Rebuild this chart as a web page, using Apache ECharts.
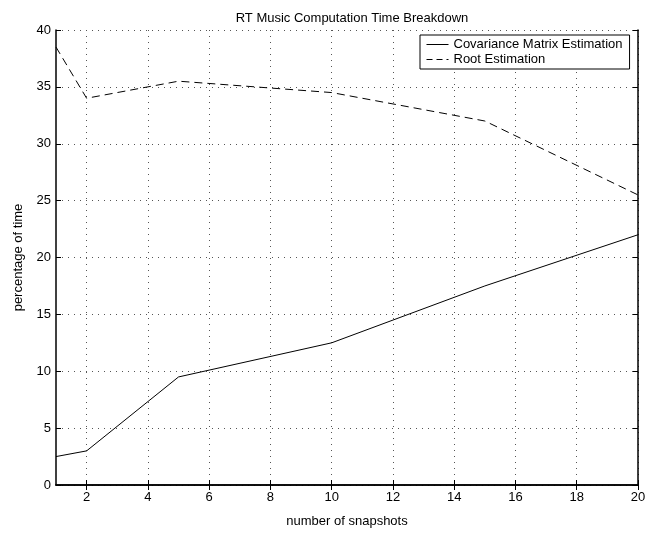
<!DOCTYPE html>
<html>
<head>
<meta charset="utf-8">
<script src="https://cdn.jsdelivr.net/npm/echarts@6/dist/echarts.min.js"></script>
<style>
  html, body { margin: 0; padding: 0; background: #fff; }
  #main { width: 657px; height: 533px; }
</style>
</head>
<body>
<div id="main"></div>
<script>
// ---- data ----
const snapshots = [1, 2, 5, 10, 15, 20];
const covarianceEst = [2.5, 3, 9.5, 12.5, 17.5, 22];
const rootEst = [38.5, 34, 35.5, 34.5, 32, 25.5];
const xTicks = [2, 4, 6, 8, 10, 12, 14, 16, 18, 20];

const font = 'Liberation Sans, Arial, Helvetica, sans-serif';

const pairs = (xs, ys) => xs.map((x, i) => [x, ys[i]]);

const chart = echarts.init(document.getElementById('main'));

// dotted grid + inward ticks, matlab style
const dotted = { show: true, lineStyle: { color: '#555', width: 1, type: [1, 5] } };

const option = {
  animation: false,
  backgroundColor: '#fff',
  title: {
    text: 'RT Music Computation Time Breakdown',
    left: 347,
    textAlign: 'center',
    top: 7,
    textStyle: { fontFamily: font, fontSize: 13, fontWeight: 'normal', color: '#000' }
  },
  legend: {
    orient: 'vertical',
    left: 420,
    top: 35,
    padding: [3, 7, 3, 6],
    itemGap: 2,
    itemWidth: 22,
    itemHeight: 10,
    borderColor: '#000',
    borderWidth: 1,
    backgroundColor: '#fff',
    itemStyle: { opacity: 0 },
    textStyle: { fontFamily: font, fontSize: 13, color: '#000' },
    data: [
      { name: 'Covariance Matrix Estimation', lineStyle: { color: '#000', width: 1, type: 'solid' } },
      { name: 'Root Estimation', lineStyle: { color: '#000', width: 1, type: [6, 4] } }
    ]
  },
  grid: { left: 56, right: 19, top: 30, bottom: 45 },
  xAxis: [
    {
      type: 'value',
      min: 1,
      max: 20,
      name: 'number of snapshots',
      nameLocation: 'middle',
      nameGap: 30,
      nameTextStyle: { fontFamily: font, fontSize: 13, color: '#000' },
      axisLine: { lineStyle: { color: '#000', width: 1.5 } },
      axisTick: { inside: true, length: 5, lineStyle: { color: '#000' }, customValues: xTicks },
      axisLabel: { color: '#000', fontFamily: font, fontSize: 13, margin: 6, customValues: xTicks },
      splitLine: dotted
    },
    {
      type: 'value',
      position: 'top',
      min: 1,
      max: 20,
      axisLine: { lineStyle: { color: '#000', width: 1.5 } },
      axisTick: { inside: true, length: 5, lineStyle: { color: '#000' }, customValues: xTicks },
      axisLabel: { show: false },
      splitLine: { show: false }
    }
  ],
  yAxis: [
    {
      type: 'value',
      min: 0,
      max: 40,
      interval: 5,
      name: 'percentage of time',
      nameLocation: 'middle',
      nameGap: 31,
      nameTextStyle: { fontFamily: font, fontSize: 13, color: '#000' },
      axisLine: { show: true, lineStyle: { color: '#000', width: 1.5 } },
      axisTick: { show: true, inside: true, length: 5, lineStyle: { color: '#000' } },
      axisLabel: { color: '#000', fontFamily: font, fontSize: 13, margin: 5 },
      splitLine: dotted
    },
    {
      type: 'value',
      position: 'right',
      min: 0,
      max: 40,
      interval: 5,
      axisLine: { show: true, lineStyle: { color: '#000', width: 1.5 } },
      axisTick: { show: true, inside: true, length: 5, lineStyle: { color: '#000' } },
      axisLabel: { show: false },
      splitLine: { show: false }
    }
  ],
  series: [
    {
      name: 'Covariance Matrix Estimation',
      type: 'line',
      data: pairs(snapshots, covarianceEst),
      symbol: 'none',
      color: '#000',
      lineStyle: { color: '#000', width: 1 }
    },
    {
      name: 'Root Estimation',
      type: 'line',
      data: pairs(snapshots, rootEst),
      symbol: 'none',
      color: '#000',
      lineStyle: { color: '#000', width: 1, type: [8, 5] }
    }
  ]
};

chart.setOption(option);
</script>
</body>
</html>
